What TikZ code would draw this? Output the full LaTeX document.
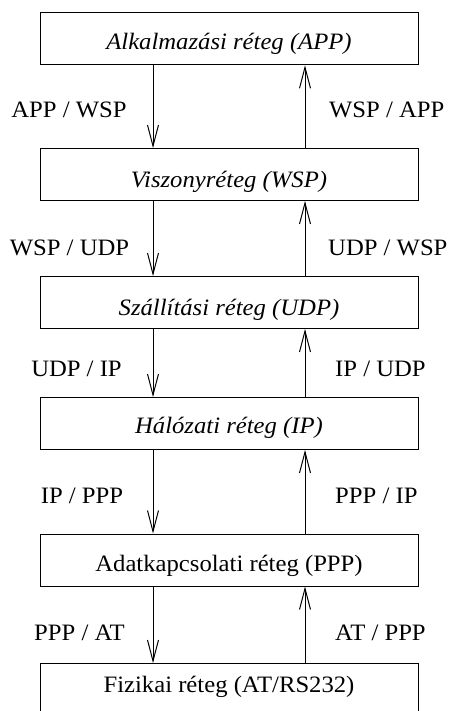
\documentclass[tikz,border=0pt]{standalone}
\usepackage{fontspec}
\setmainfont{Liberation Serif}[FakeStretch=1.05]
\usetikzlibrary{arrows.meta}
\begin{document}
\begin{tikzpicture}[x=1pt,y=-1pt,
  every node/.style={font=\fontsize{23.5}{27}\selectfont, inner sep=0pt},
  layer/.style={draw, line width=1pt, minimum width=378pt, minimum height=52pt, text depth=0pt},
  flow/.style={line width=1pt, -{Straight Barb[length=21pt,width=11pt,line width=1pt]}},
  tag/.style={anchor=base}]
\clip (0,0) rectangle (449,711);

% protocol stack
\node[layer, text height=21pt] (app) at (229,38.8) {\itshape Alkalmazási réteg (APP)};
\node[layer, text height=26pt] (wsp) at (229,174.5) {\itshape Viszonyréteg (WSP)};
\node[layer, text height=26pt] (udp) at (229,302.5) {\itshape Szállítási réteg (UDP)};
\node[layer, text height=19pt] (ip)  at (229,423.5) {\itshape Hálózati réteg (IP)};
\node[layer, text height=23pt] (ppp) at (229,560) {Adatkapcsolati réteg (PPP)};
\node[layer, text height=5pt]  (at)  at (229,689.5) {Fizikai réteg (AT/RS232)};

% columns of the downward and upward flows
\coordinate (dn) at (153,0);
\coordinate (up) at (305,0);

\draw[flow] (app.south -| dn) -- (wsp.north -| dn);
\draw[flow] (wsp.south -| dn) -- (udp.north -| dn);
\draw[flow] (udp.south -| dn) -- (ip.north -| dn);
\draw[flow] (ip.south -| dn) -- (ppp.north -| dn);
\draw[flow] (ppp.south -| dn) -- (at.north -| dn);

\draw[flow] (wsp.north -| up) -- (app.south -| up);
\draw[flow] (udp.north -| up) -- (wsp.south -| up);
\draw[flow] (ip.north -| up) -- (udp.south -| up);
\draw[flow] (ppp.north -| up) -- (ip.south -| up);
\draw[flow] (at.north -| up) -- (ppp.south -| up);

% encapsulation labels
\node[tag] (l1) at (69,118) {APP / WSP};
\node[tag] (l2) at (69.5,255) {WSP / UDP};
\node[tag] (l3) at (76.5,376) {UDP / IP};
\node[tag] (l4) at (82,503) {IP / PPP};
\node[tag] (l5) at (79.5,640) {PPP / AT};

\node[tag, anchor=base west] (r1) at (329,118) {WSP / APP};
\node[tag, anchor=base west] (r2) at (328,255) {UDP / WSP};
\node[tag, anchor=base west] (r3) at (335,376) {IP / UDP};
\node[tag, anchor=base west] (r4) at (335,503) {PPP / IP};
\node[tag, anchor=base west] (r5) at (335,640) {AT / PPP};
\end{tikzpicture}
\end{document}
